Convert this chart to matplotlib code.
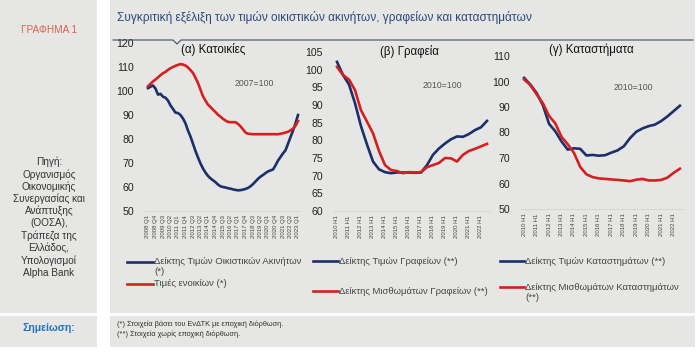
import matplotlib
matplotlib.use("Agg")
import matplotlib.pyplot as plt
from matplotlib.patches import Rectangle
from matplotlib.lines import Line2D

plt.rcParams['font.family'] = ['Liberation Sans', 'DejaVu Sans']

# (a) Residential, quarterly 2008Q1 - 2023Q1, 2007=100
house_prices = [101.2, 101.8, 102.3, 101.0, 98.5, 98.8, 97.6, 97.2, 96.0, 94.0,
                92.5, 91.0, 90.8, 90.0, 88.5, 86.5, 83.5, 81.0, 78.0, 75.0,
                72.3, 69.8, 67.7, 66.0, 64.6, 63.6, 62.8, 62.0, 61.0, 60.3,
                60.0, 59.8, 59.5, 59.3, 59.0, 58.8, 58.6, 58.7, 58.9, 59.2,
                59.6, 60.3, 61.2, 62.3, 63.4, 64.3, 65.0, 65.8, 66.5, 66.9,
                67.3, 69.0, 71.0, 72.5, 74.0, 75.3, 78.0, 80.8, 83.5, 86.5, 90.0]
rents = [102.0, 103.0, 104.0, 104.8, 105.7, 106.6, 107.4, 108.0, 108.8, 109.5,
         110.0, 110.5, 110.9, 111.2, 111.0, 110.6, 109.8, 108.7, 107.5, 105.5,
         103.3, 100.5, 97.8, 96.0, 94.3, 93.3, 92.2, 91.2, 90.1, 89.3,
         88.4, 87.7, 87.1, 87.0, 87.0, 87.0, 86.3, 85.3, 84.0, 82.7,
         82.2, 82.1, 82.0, 82.0, 82.0, 82.0, 82.0, 82.0, 82.0, 82.0,
         82.0, 82.0, 82.0, 82.2, 82.4, 82.7, 83.0, 83.6, 84.3, 85.5, 87.5]
quarters = []
for y in range(2008, 2024):
    for q in range(1, 5):
        quarters.append(f"{y} Q{q}")
quarters = quarters[:len(house_prices)]

# (b) Offices, half-yearly 2010H1 - 2022H2, 2010=100
office_prices = [102.2, 98.5, 95.8, 90.5, 84.0, 78.8, 74.0, 71.8, 71.0, 70.7,
                 70.9, 70.9, 70.9, 70.8, 70.9, 73.0, 75.9, 77.7, 79.1, 80.3,
                 81.1, 81.0, 81.8, 82.9, 83.7, 85.5]
office_rents = [100.8, 98.5, 97.2, 94.2, 88.5, 85.3, 82.0, 77.0, 73.0, 71.6,
                71.3, 70.7, 71.0, 70.9, 71.0, 72.4, 73.0, 73.6, 75.0, 74.9,
                74.0, 75.9, 77.0, 77.6, 78.3, 79.0]

# (c) Retail, half-yearly 2010H1 - 2022H2, 2010=100
retail_prices = [101.4, 98.8, 95.5, 90.8, 83.4, 80.5, 76.5, 73.3, 73.8, 73.6,
                 71.0, 71.2, 70.9, 71.1, 72.1, 73.0, 74.6, 77.8, 80.3, 81.6,
                 82.5, 83.1, 84.5, 86.3, 88.4, 90.5]
retail_rents = [100.8, 98.6, 95.0, 91.5, 86.5, 83.6, 78.3, 75.4, 72.0, 66.5,
                63.6, 62.5, 62.0, 61.8, 61.6, 61.4, 61.2, 60.9, 61.5, 61.8,
                61.2, 61.2, 61.4, 62.3, 64.2, 65.8]
halves = []
for y in range(2010, 2023):
    halves += [f"{y} H1", f"{y} H2"]

BLUE = "#1b2f6b"
RED = "#d42020"
BG = "#e6e6e4"
TXT = "#333333"

W, H = 700, 353
fig = plt.figure(figsize=(7.0, 3.53), dpi=100, facecolor="white")


def px(x0, y0, w, h):
    return [x0 / W, 1 - (y0 + h) / H, w / W, h / H]


def box(x0, y0, w, h):
    fig.patches.append(Rectangle((x0 / W, 1 - (y0 + h) / H), w / W, h / H,
                                 transform=fig.transFigure, facecolor=BG,
                                 edgecolor="none", zorder=-10))


box(0, 0, 97, 313)
box(0, 316, 97, 31)
box(110, 0, 585, 313)
box(110, 316, 585, 31)


def fx(x):
    return x / W


def fy(y):
    return 1 - y / H


# header
fig.text(fx(117), fy(17), "Συγκριτική εξέλιξη των τιμών οικιστικών ακινήτων, γραφείων και καταστημάτων",
         fontsize=8.6, color="#2b4a7e", va="center", ha="left")
fig.add_artist(Line2D([fx(113), fx(173), fx(177), fx(181), fx(693)],
                      [fy(40), fy(40), fy(44), fy(40), fy(40)],
                      color="#3d506b", lw=0.8, transform=fig.transFigure))

# left column
fig.text(fx(49), fy(30), "ΓΡΑΦΗΜΑ 1", fontsize=7.2, color="#e0604e", ha="center", va="center")
src = ["Πηγή:", "Οργανισμός", "Οικονομικής", "Συνεργασίας και", "Ανάπτυξης",
       "(ΟΟΣΑ),", "Τράπεζα της", "Ελλάδος,", "Υπολογισμοί", "Alpha Bank"]
for i, s in enumerate(src):
    fig.text(fx(49), fy(162 + i * 12.3), s, fontsize=7.2, color=TXT, ha="center", va="center")
fig.text(fx(49), fy(328), "Σημείωση:", fontsize=7.5, color="#1f72c0", fontweight="bold",
         ha="center", va="center")
fig.text(fx(117), fy(324), "(*) Στοιχεία βάσει του ΕνΔΤΚ με εποχική διόρθωση.",
         fontsize=5.3, color=TXT, va="center")
fig.text(fx(117), fy(334), "(**) Στοιχεία χωρίς εποχική διόρθωση.",
         fontsize=5.3, color=TXT, va="center")


def style(ax, labels, step):
    ax.set_facecolor("none")
    for s in ["top", "right", "left"]:
        ax.spines[s].set_visible(False)
    ax.spines["bottom"].set_color("#d2d2d0")
    ax.spines["bottom"].set_linewidth(0.6)
    ax.tick_params(axis="y", length=0, labelsize=7.6, pad=8, colors="#222222")
    ax.tick_params(axis="x", length=0, labelsize=4.3, pad=3, colors="#444444")
    pos = list(range(0, len(labels), step))
    ax.set_xticks(pos)
    ax.set_xticklabels([labels[p] for p in pos], rotation=90)


# (a)
ax1 = fig.add_axes(px(145, 43, 155, 168))
x1 = list(range(len(house_prices)))
ax1.plot(x1, house_prices, color=BLUE, lw=1.9)
ax1.plot(x1, rents, color=RED, lw=1.9)
ax1.set_xlim(-1.2, 60.8)
ax1.set_ylim(50, 120)
ax1.set_yticks(range(50, 121, 10))
style(ax1, quarters, 3)

# (b)
ax2 = fig.add_axes(px(334, 52, 156, 159))
x2 = list(range(len(office_prices)))
ax2.plot(x2, office_prices, color=BLUE, lw=1.9)
ax2.plot(x2, office_rents, color=RED, lw=1.9)
ax2.set_xlim(-0.5, 25.5)
ax2.set_ylim(60, 105)
ax2.set_yticks(range(60, 106, 5))
style(ax2, halves, 2)

# (c)
ax3 = fig.add_axes(px(521, 56, 162, 153))
x3 = list(range(len(retail_prices)))
ax3.plot(x3, retail_prices, color=BLUE, lw=1.9)
ax3.plot(x3, retail_rents, color=RED, lw=1.9)
ax3.set_xlim(-0.5, 25.5)
ax3.set_ylim(50, 110)
ax3.set_yticks(range(50, 111, 10))
style(ax3, halves, 2)

# panel titles and base notes
fig.text(fx(213), fy(49), "(α) Κατοικίες", fontsize=8.3, ha="center", va="center", color="#111111")
fig.text(fx(254), fy(83), "2007=100", fontsize=6.3, ha="center", va="center", color="#555555")
fig.text(fx(409), fy(52), "(β) Γραφεία", fontsize=8.3, ha="center", va="center", color="#111111")
fig.text(fx(442), fy(85), "2010=100", fontsize=6.3, ha="center", va="center", color="#555555")
fig.text(fx(591), fy(50), "(γ) Καταστήματα", fontsize=8.3, ha="center", va="center", color="#111111")
fig.text(fx(633), fy(88), "2010=100", fontsize=6.3, ha="center", va="center", color="#555555")


# legends
def leg(x0, x1, y, color, lines):
    fig.add_artist(Line2D([fx(x0), fx(x1)], [fy(y), fy(y)], color=color, lw=1.9,
                          transform=fig.transFigure))
    for i, s in enumerate(lines):
        fig.text(fx(x1 + 1), fy(y + i * 10), s, fontsize=6.8, color="#444444", va="center")


leg(127, 153, 262, BLUE, ["Δείκτης Τιμών Οικιστικών Ακινήτων", "(*)"])
leg(127, 153, 284, RED, ["Τιμές ενοικίων (*)"])
leg(313, 338, 261, BLUE, ["Δείκτης Τιμών Γραφείων (**)"])
leg(313, 338, 291, RED, ["Δείκτης Μισθωμάτων Γραφείων (**)"])
leg(500, 524, 261, BLUE, ["Δείκτης Τιμών Καταστημάτων (**)"])
leg(500, 524, 287, RED, ["Δείκτης Μισθωμάτων Καταστημάτων", "(**)"])

fig.savefig("out.png", dpi=100, facecolor="white")
